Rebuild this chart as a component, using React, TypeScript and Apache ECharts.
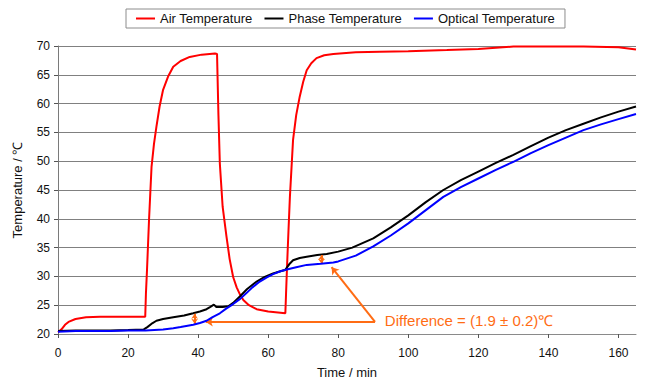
import React, { useEffect, useRef } from "react";
import * as echarts from "echarts";

const FONT = "'Liberation Sans', Arial, sans-serif";
const ORANGE = "#ff6c14";

const seriesNames = ["Air Temperature", "Phase Temperature", "Optical Temperature"];
const seriesColors = ["#ff0000", "#000000", "#0000ff"];

const xTicks = [0, 20, 40, 60, 80, 100, 120, 140, 160];

// time (min), temperature (°C)
const airTemperature: number[][] = [
  [0, 20.3], [1, 20.8], [2, 21.6], [3, 22.1], [5, 22.6], [8, 22.9], [12, 23.0], [18, 23.0], [24.9, 23.0],
  [25.1, 27], [25.4, 31], [26, 40], [26.7, 49], [27.4, 53], [28.1, 56], [29, 59.5], [30, 62.4],
  [31.5, 64.8], [32.9, 66.4], [35, 67.4], [37.6, 68.1], [41, 68.5], [44.8, 68.7], [45.4, 68.6],
  [45.8, 58], [46.2, 49.6], [47, 42.1], [48.1, 36.9], [49, 33], [50, 29.9], [51, 28.1], [52, 26.8],
  [52.9, 25.9], [54.5, 25], [56.7, 24.3], [60, 23.9], [64.9, 23.6],
  [65.1, 27], [65.4, 32], [65.8, 38], [66.2, 43.8], [67.1, 53.7], [68, 58], [69, 61.2], [70, 63.8],
  [71, 65.8], [72.3, 67], [73.8, 67.9], [76, 68.4], [78.6, 68.6], [85, 68.9], [91.9, 69.0], [100, 69.1],
  [111, 69.3], [120, 69.5], [130, 69.9], [150, 69.9], [160, 69.8], [165, 69.4],
];

const phaseTemperature: number[][] = [
  [0, 20.5], [5, 20.6], [10, 20.6], [15, 20.6], [20, 20.7], [24.5, 20.8], [25.5, 21.2], [27, 21.9],
  [28.1, 22.3], [30, 22.6], [32.9, 22.9], [36, 23.2], [38.6, 23.6], [40.5, 23.9], [42.4, 24.3],
  [43.5, 24.7], [44.5, 25.1], [45.2, 24.7], [47, 24.7], [48.6, 24.8], [50, 25.4], [51.9, 26.5],
  [54, 27.8], [56.7, 29.1], [59, 29.9], [61.4, 30.5], [63, 30.8], [64.8, 31.1], [66, 32.1],
  [67.1, 32.8], [69, 33.2], [71, 33.4], [74, 33.7], [76.7, 33.9], [80, 34.3], [84, 35], [90, 36.6],
  [95, 38.5], [100, 40.6], [105, 42.9], [110, 45], [115, 46.7], [120, 48.2], [125, 49.7], [130, 51.1],
  [135, 52.6], [140, 54.1], [145, 55.4], [150, 56.5], [155, 57.6], [160, 58.6], [165, 59.5],
];

const opticalTemperature: number[][] = [
  [0, 20.4], [5, 20.5], [10, 20.5], [15, 20.5], [20, 20.6], [25, 20.6], [30, 20.8], [32.9, 21.0],
  [35, 21.2], [38.6, 21.6], [40.5, 21.9], [42.4, 22.3], [44, 22.9], [46.2, 23.6], [48, 24.4],
  [50, 25.2], [52, 26.1], [53.8, 27.1], [55.5, 28.1], [57.6, 29.1], [59.5, 29.8], [61.4, 30.4],
  [63.5, 30.9], [65.3, 31.2], [68, 31.6], [71, 32.0], [75, 32.2], [78.6, 32.4], [80, 32.6],
  [85, 33.6], [90, 35.2], [95, 37.1], [100, 39.2], [105, 41.5], [110, 43.8], [115, 45.5],
  [120, 47.0], [125, 48.5], [130, 49.9], [135, 51.4], [140, 52.8], [145, 54.1], [150, 55.4],
  [155, 56.4], [160, 57.3], [165, 58.2],
];

const annotationText = "Difference = (1.9 ± 0.2)℃";
// annotation anchor points in data coordinates [time, temperature]
const arrowVertex = [90.5, 22.1];
const arrowTargetLow = [42.2, 22.1];
const arrowTargetHigh = [78.1, 31.6];
const diffArrow1 = [[39, 23.5], [39, 21.8]];
const diffArrow2 = [[75.2, 33.7], [75.2, 32.2]];
const textAnchor = [93.3, 22.4];

export default function App() {
  const ref = useRef<HTMLDivElement>(null);
  useEffect(() => {
    if (!ref.current) return;
    const chart = echarts.init(ref.current, null, { renderer: "svg" });
    const datasets = [airTemperature, phaseTemperature, opticalTemperature];
    const series: any[] = seriesNames.map((name, i) => ({
      name,
      type: "line",
      data: datasets[i],
      showSymbol: false,
      symbol: "none",
      lineStyle: { color: seriesColors[i], width: 2 },
      itemStyle: { color: seriesColors[i] },
      z: 3 + i,
    }));
    series.push({
      name: "annotation",
      type: "line",
      data: [],
      z: 10,
      markLine: {
        silent: true,
        animation: false,
        label: { show: false },
        lineStyle: { color: ORANGE, width: 2, type: "solid" },
        data: [
          [
            { coord: arrowVertex, symbol: "none" },
            { coord: arrowTargetLow, symbol: "arrow", symbolSize: 7 },
          ],
          [
            { coord: arrowVertex, symbol: "none" },
            { coord: arrowTargetHigh, symbol: "arrow", symbolSize: 7 },
          ],
          [
            { coord: diffArrow1[0], symbol: "arrow", symbolSize: 5 },
            { coord: diffArrow1[1], symbol: "arrow", symbolSize: 5 },
          ],
          [
            { coord: diffArrow2[0], symbol: "arrow", symbolSize: 5 },
            { coord: diffArrow2[1], symbol: "arrow", symbolSize: 5 },
          ],
        ],
      },
      markPoint: {
        silent: true,
        animation: false,
        symbol: "circle",
        symbolSize: 0,
        data: [
          {
            coord: textAnchor,
            label: {
              show: true,
              position: "right",
              distance: 0,
              formatter: annotationText,
              color: ORANGE,
              fontSize: 15,
              fontFamily: FONT,
            },
          },
        ],
      },
    });

    chart.setOption({
      animation: false,
      backgroundColor: "#ffffff",
      textStyle: { fontFamily: FONT },
      grid: {
        left: 58,
        right: 11,
        top: 46,
        bottom: 47,
        containLabel: false,
        outerBoundsMode: "none",
      },
      legend: {
        data: seriesNames,
        left: 126,
        top: 9,
        padding: [3, 10, 3, 10],
        itemGap: 12,
        itemWidth: 19,
        itemHeight: 2,
        icon: "rect",
        borderColor: "#8c8c8c",
        borderWidth: 1,
        textStyle: { fontSize: 13, color: "#111", fontFamily: FONT },
      },
      xAxis: {
        type: "value",
        min: 0,
        max: 165,
        interval: 20,
        name: "Time / min",
        nameLocation: "middle",
        nameGap: 32,
        nameTextStyle: { fontSize: 13, color: "#111", fontFamily: FONT },
        axisLine: { show: true, onZero: false, lineStyle: { color: "#8a8a8a", width: 1 } },
        axisTick: { show: true, length: 4, lineStyle: { color: "#555" }, customValues: xTicks },
        axisLabel: { fontSize: 12, color: "#111", margin: 13, customValues: xTicks, fontFamily: FONT },
        splitLine: { show: false },
      },
      yAxis: {
        type: "value",
        min: 20,
        max: 70,
        interval: 5,
        name: "Temperature / ℃",
        nameLocation: "middle",
        nameGap: 34,
        nameTextStyle: { fontSize: 13, color: "#111", fontFamily: FONT },
        axisLine: { show: true, lineStyle: { color: "#7a7a7a", width: 1 } },
        axisTick: { show: true, length: 4, lineStyle: { color: "#555" } },
        axisLabel: { fontSize: 12, color: "#111", margin: 8, fontFamily: FONT },
        splitLine: { show: true, lineStyle: { color: "#808080", width: 1 } },
      },
      series,
    });
    return () => chart.dispose();
  }, []);
  return (
    <div
      ref={ref}
      style={{ position: "absolute", left: 0, top: 0, width: 647, height: 381 }}
    />
  );
}
